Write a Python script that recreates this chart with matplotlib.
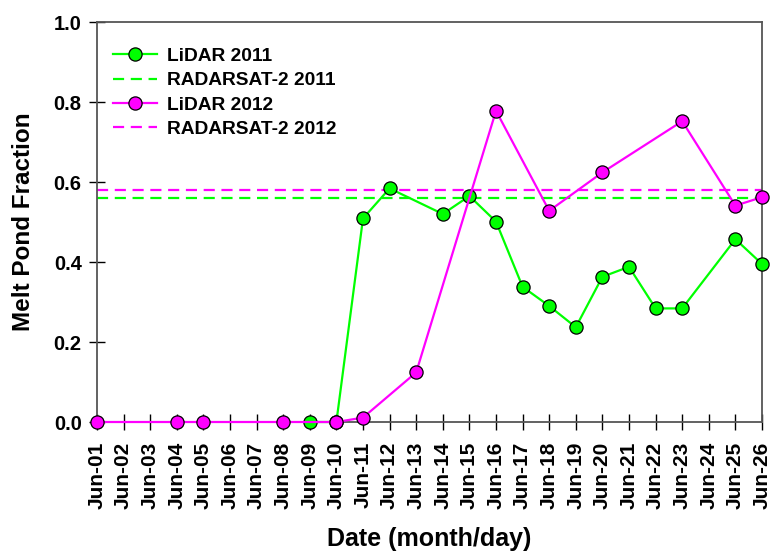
import matplotlib
matplotlib.use("Agg")
import matplotlib.pyplot as plt

plt.rcParams['font.family'] = ['Liberation Sans', 'DejaVu Sans']

days = [f"Jun-{d:02d}" for d in range(1, 27)]

# LiDAR melt pond fraction, 2011 (day of June, value)
lidar2011_days = [9, 10, 11, 12, 14, 15, 16, 17, 18, 19, 20, 21, 22, 23, 25, 26]
lidar2011_vals = [0.0, 0.0, 0.509, 0.584, 0.52, 0.565, 0.501, 0.338, 0.29, 0.237,
                  0.363, 0.388, 0.284, 0.284, 0.457, 0.395]

# LiDAR melt pond fraction, 2012
lidar2012_days = [1, 4, 5, 8, 10, 11, 13, 16, 18, 20, 23, 25, 26]
lidar2012_vals = [0.0, 0.0, 0.0, 0.0, 0.0, 0.011, 0.124, 0.778, 0.528, 0.624,
                  0.752, 0.541, 0.562]

# RADARSAT-2 mean melt pond fraction
radarsat2011 = 0.561
radarsat2012 = 0.579

GREEN = '#00FF00'
MAGENTA = '#FF00FF'

fig = plt.figure(figsize=(7.74, 5.53), dpi=100)
ax = fig.add_axes([97 / 774, 1 - 422 / 553, 665 / 774, 400 / 553])

ax.plot(lidar2011_days, lidar2011_vals, '-o', color=GREEN, lw=1.6,
        markersize=9.5, markerfacecolor=GREEN, markeredgecolor='black',
        markeredgewidth=0.9, clip_on=False, zorder=3, label='LiDAR 2011')
ax.axhline(radarsat2011, color=GREEN, lw=1.6, ls=(0, (5, 3)),
           label='RADARSAT-2 2011', zorder=2)
ax.plot(lidar2012_days, lidar2012_vals, '-o', color=MAGENTA, lw=1.6,
        markersize=9.5, markerfacecolor=MAGENTA, markeredgecolor='black',
        markeredgewidth=0.9, clip_on=False, zorder=4, label='LiDAR 2012')
ax.axhline(radarsat2012, color=MAGENTA, lw=1.6, ls=(0, (5, 3)),
           label='RADARSAT-2 2012', zorder=2)

ax.set_xlim(1, 26)
ax.set_ylim(0, 1.0)
ax.set_xticks(range(1, 27))
ax.set_xticklabels(days, rotation=90, fontsize=15, fontweight='bold')
ax.set_yticks([0.0, 0.2, 0.4, 0.6, 0.8, 1.0])
ax.set_yticklabels(['0.0', '0.2', '0.4', '0.6', '0.8', '1.0'],
                   fontsize=14.5, fontweight='bold')
ax.tick_params(axis='both', direction='inout', length=12, width=1,
               color='black')
ax.tick_params(axis='x', pad=8)
ax.tick_params(axis='y', pad=5)

for side in ax.spines.values():
    side.set_color('#555555')
    side.set_linewidth(1.3)

ax.set_xlabel('Date (month/day)', fontsize=18, fontweight='bold')
ax.set_ylabel('Melt Pond Fraction', fontsize=17.5, fontweight='bold')
ax.xaxis.set_label_coords(0.5, -(527 - 422) / 400)
ax.yaxis.set_label_coords(-(97 - 35) / 665, 0.5)

leg = ax.legend(loc='upper left', frameon=False,
                prop={'weight': 'bold', 'size': 13.8},
                handlelength=2.3, handletextpad=0.55, labelspacing=0.36,
                borderaxespad=0.0, bbox_to_anchor=(0.012, 0.955))

fig.savefig('out.png', dpi=100)
